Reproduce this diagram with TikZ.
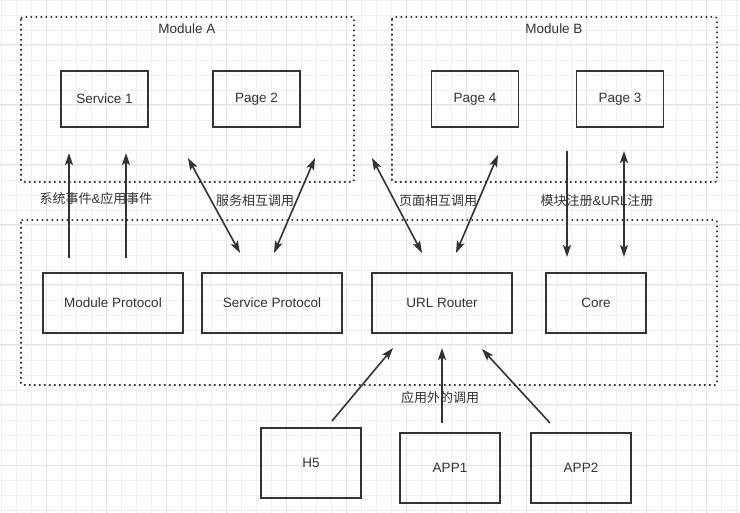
\documentclass[tikz,border=0pt]{standalone}
\usepackage{fontspec}
\setmainfont{Liberation Sans}
\newfontfamily\cjk{Noto Sans CJK SC}
\usetikzlibrary{arrows.meta}
\definecolor{ink}{HTML}{333333}
\definecolor{gridminor}{HTML}{F0F0F0}
\definecolor{gridmajor}{HTML}{E4E4E4}
\newcommand{\lat}[1]{{\normalfont\fontsize{13}{15}\selectfont #1}}
\tikzset{
  box/.style={draw=ink, line width=1.6pt, text=ink, minimum width=87pt, minimum height=56pt, font=\fontsize{13.5}{15}\selectfont},
  lowbox/.style={box, minimum width=140pt, minimum height=60pt},
  appbox/.style={box, minimum width=100pt, minimum height=70pt},
  group/.style={draw=ink, line width=1.6pt, dash pattern=on 1.6pt off 3.4pt, rounded corners=2pt},
  tag/.style={text=ink, font=\fontsize{13.5}{15}\selectfont},
  cjktag/.style={text=ink, font=\cjk\fontsize{13}{15}\selectfont},
  link/.style={draw=ink, line width=1.6pt}
}
\begin{document}
\begin{tikzpicture}[x=1pt, y=-1pt, >={Stealth[length=12pt,width=8pt,inset=2.5pt]}]
 \useasboundingbox (0,0) rectangle (740,513);
 \fill[white] (0,0) rectangle (740,513);
 % grid
 \foreach \x in {1,16,...,736} \draw[gridminor, line width=0.8pt] (\x,0) -- (\x,513);
 \foreach \y in {0,15,...,510} \draw[gridminor, line width=0.8pt] (0,\y) -- (740,\y);
 \foreach \x in {46,106,...,706} \draw[gridmajor, line width=1pt] (\x,0) -- (\x,513);
 \foreach \y in {45,105,...,465} \draw[gridmajor, line width=1pt] (0,\y) -- (740,\y);
 % groups
 \draw[group] (21,17) rectangle (354,182);
 \draw[group] (392,17) rectangle (717,182);
 \draw[group] (21,220) rectangle (717,385);
 \node[tag] (moda) at (187,29) {Module A};
 \node[tag] (modb) at (554,29) {Module B};
 % module boxes
 \node[box] (service1) at (104.5,99) {Service 1};
 \node[box] (page2) at (256.5,99) {Page 2};
 \node[box] (page4) at (475,99) {Page 4};
 \node[box] (page3) at (620,99) {Page 3};
 % core layer
 \node[lowbox] (modproto) at (113,303) {Module Protocol};
 \node[lowbox] (servproto) at (272,303) {Service Protocol};
 \node[lowbox] (router) at (442,303) {URL Router};
 \node[lowbox, minimum width=100pt] (core) at (596,303) {Core};
 % outside callers
 \node[appbox] (h5) at (311,463) {H5};
 \node[appbox] (app1) at (450,468) {APP1};
 \node[appbox] (app2) at (581,468) {APP2};
 % arrow ends
 \coordinate (ev1a) at (69,258);  \coordinate (ev1b) at (69,153);
 \coordinate (ev2a) at (126,258); \coordinate (ev2b) at (126,153);
 \coordinate (sv1a) at (188,158); \coordinate (sv1b) at (240,253);
 \coordinate (sv2a) at (315,158); \coordinate (sv2b) at (274,253);
 \coordinate (pg1a) at (372,158); \coordinate (pg1b) at (422,253);
 \coordinate (pg2a) at (498,155); \coordinate (pg2b) at (456,253);
 \coordinate (rg1a) at (567,151); \coordinate (rg1b) at (567,257);
 \coordinate (rg2a) at (624,151); \coordinate (rg2b) at (624,257);
 \coordinate (h5a) at (332,421);  \coordinate (h5b) at (393,348);
 \coordinate (ap1a) at (442,423); \coordinate (ap1b) at (442,348);
 \coordinate (ap2a) at (550,423); \coordinate (ap2b) at (482,349);
 % arrows
 \draw[link, ->] (ev1a) -- (ev1b);
 \draw[link, ->] (ev2a) -- (ev2b);
 \draw[link, <->] (sv1a) -- (sv1b);
 \draw[link, <->] (sv2a) -- (sv2b);
 \draw[link, <->] (pg1a) -- (pg1b);
 \draw[link, <->] (pg2a) -- (pg2b);
 \draw[link, ->] (rg1a) -- (rg1b);
 \draw[link, <->] (rg2a) -- (rg2b);
 \draw[link, ->] (h5a) -- (h5b);
 \draw[link, ->] (ap1a) -- (ap1b);
 \draw[link, ->] (ap2a) -- (ap2b);
 % labels
 \node[cjktag] (evlbl) at (96,199) {系统事件\lat{\&}应用事件};
 \node[cjktag] (svlbl) at (255,201) {服务相互调用};
 \node[cjktag] (pglbl) at (438,201) {页面相互调用};
 \node[cjktag] (rglbl) at (597,201) {模块注册\lat{\&URL}注册};
 \node[cjktag] (aplbl) at (440,398) {应用外的调用};
\end{tikzpicture}
\end{document}
